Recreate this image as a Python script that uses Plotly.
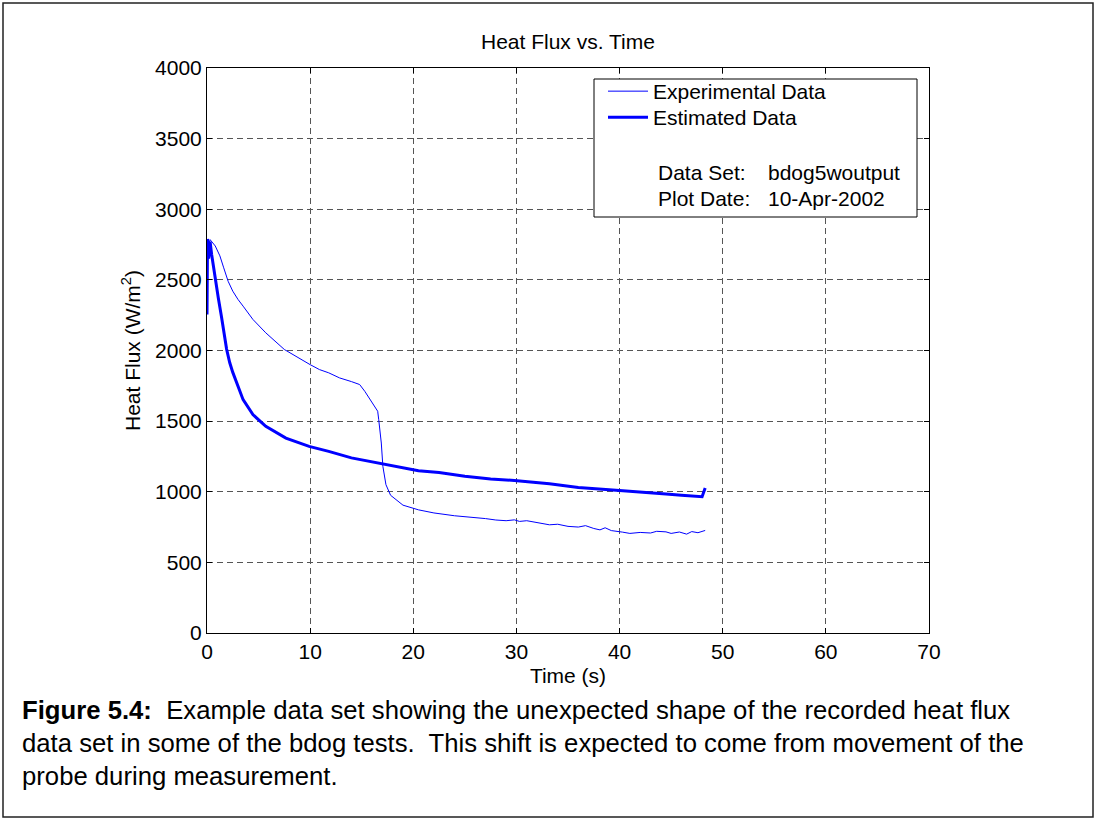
import plotly.graph_objects as go

# ---------------- data ----------------
exp_t = [0, 0.3, 0.8, 1.25, 1.6, 2.05, 2.5, 3.0, 3.5, 4.45, 5.7, 7.5, 10, 10.9, 11.8, 12.85, 14.0,
         14.8, 15.3, 15.9, 16.3, 16.55, 16.65, 16.9, 17.05, 17.35, 17.8, 18.3, 19.0, 20.5,
         22, 24, 25, 26, 27, 28, 29, 29.8, 30.3, 31, 32, 33.2, 34, 35, 36, 36.7, 37.5,
         38.1, 38.6, 39.2, 40.3, 41, 42, 43, 43.6, 44.5, 45, 45.8, 46.5, 47, 47.6, 48.3]
exp_q = [2700, 2785, 2740, 2670, 2590, 2490, 2420, 2362, 2314, 2220, 2125, 2007, 1900, 1865, 1842, 1806, 1780,
         1759, 1711, 1640, 1600, 1570, 1510, 1345, 1180, 1050, 975, 943, 905, 872,
         850, 830, 825, 815, 810, 800, 795, 801, 790, 795, 780, 766, 770, 755, 750, 760, 740,
         730, 745, 725, 714, 705, 712, 708, 720, 716, 705, 715, 700, 718, 710, 726]

est_t = [0, 0.05, 0.15, 0.3, 0.45, 0.8, 1.1, 1.4, 1.9, 2.2, 2.5, 3.5, 4.45, 5.7, 7.65, 9.9,
         11.8, 14, 17.05, 20.5, 22.5, 25, 27.5, 29.8, 33.2, 36, 40, 42, 44.5, 46, 47.4, 48.0, 48.3]
est_q = [2255, 2790, 2650, 2770, 2680, 2500, 2370, 2240, 2010, 1915, 1845, 1652, 1546, 1463, 1380, 1321,
         1286, 1240, 1199, 1149, 1137, 1110, 1090, 1080, 1057, 1030, 1009, 1000, 984, 975, 967, 965, 1026]

x_ticks = [0, 10, 20, 30, 40, 50, 60, 70]
y_ticks = [0, 500, 1000, 1500, 2000, 2500, 3000, 3500, 4000]

title_text = "Heat Flux vs. Time"
x_title = "Time (s)"
y_title = "Heat Flux (W/m<sup>2</sup>)"
legend_names = ["Experimental Data", "Estimated Data"]
info_labels = ["Data Set:", "Plot Date:"]
info_values = ["bdog5woutput", "10-Apr-2002"]
caption_lines = [
    "<b>Figure 5.4:</b>  Example data set showing the unexpected shape of the recorded heat flux",
    "data set in some of the bdog tests.  This shift is expected to come from movement of the",
    "probe during measurement.",
]

# ---------------- layout geometry ----------------
W, H = 1095, 819
L, R, T, B = 207, 929, 68, 633  # plot area pixels


def px(xp):
    return (xp - L) / (R - L)


def py(yp):
    return (B - yp) / (B - T)


FONT = "Arial, Liberation Sans, sans-serif"
FS = 21
BLUE = "#0000FF"

fig = go.Figure()
fig.add_trace(go.Scatter(x=exp_t, y=exp_q, mode="lines", name=legend_names[0],
                         line=dict(color=BLUE, width=1), legend="legend"))
fig.add_trace(go.Scatter(x=est_t, y=est_q, mode="lines", name=legend_names[1],
                         line=dict(color=BLUE, width=3), legend="legend2"))

axis_common = dict(
    showline=True, linecolor="black", linewidth=1, mirror="ticks",
    ticks="inside", ticklen=5, tickcolor="black",
    showgrid=True, gridcolor="#555555", gridwidth=1, griddash="6px,4px",
    zeroline=False, tickfont=dict(family=FONT, size=FS, color="black"),
)

fig.update_xaxes(range=[0, 70], tickvals=x_ticks, ticktext=[str(v) for v in x_ticks],
                 title=dict(text=x_title, font=dict(family=FONT, size=FS, color="black"), standoff=6),
                 **axis_common)
fig.update_yaxes(range=[0, 4000], tickvals=y_ticks, ticktext=[str(v) for v in y_ticks],
                 title=dict(text=y_title, font=dict(family=FONT, size=FS, color="black"), standoff=8),
                 **axis_common)

shapes = [
    # legend box
    dict(type="rect", xref="paper", yref="paper", x0=px(594), x1=px(917), y0=py(79), y1=py(217),
         line=dict(color="black", width=1), fillcolor="white", layer="above"),
    # outer document frame
    dict(type="rect", xref="paper", yref="paper", x0=px(3), x1=px(1093), y0=py(3), y1=py(817),
         line=dict(color="#222222", width=1.5), fillcolor="rgba(0,0,0,0)", layer="above"),
]

annotations = [
    dict(text=title_text, xref="paper", yref="paper", x=0.5, y=py(42), xanchor="center",
         yanchor="middle", showarrow=False, font=dict(family=FONT, size=FS, color="black")),
]
for i in range(len(info_labels)):
    annotations.append(dict(text=info_labels[i], xref="paper", yref="paper", x=px(656), y=py(172 + 26 * i),
                            xanchor="left", yanchor="middle", showarrow=False,
                            font=dict(family=FONT, size=FS, color="black")))
    annotations.append(dict(text=info_values[i], xref="paper", yref="paper", x=px(766), y=py(172 + 26 * i),
                            xanchor="left", yanchor="middle", showarrow=False,
                            font=dict(family=FONT, size=FS, color="black")))
for i, line in enumerate(caption_lines):
    annotations.append(dict(text=line, xref="paper", yref="paper", x=px(20), y=py(710 + 33 * i),
                            xanchor="left", yanchor="middle", showarrow=False, align="left",
                            font=dict(family=FONT, size=25.7, color="black")))

legend_style = dict(xanchor="left", yanchor="top", bgcolor="rgba(0,0,0,0)", borderwidth=0,
                    font=dict(family=FONT, size=FS, color="black"), itemwidth=40, tracegroupgap=0)

fig.update_layout(
    width=W, height=H,
    margin=dict(l=L, r=W - R, t=T, b=H - B),
    paper_bgcolor="white", plot_bgcolor="white",
    showlegend=True,
    legend=dict(x=px(603), y=py(71), **legend_style),
    legend2=dict(x=px(603), y=py(97), **legend_style),
    shapes=shapes, annotations=annotations,
)

fig.write_html("out.html")
